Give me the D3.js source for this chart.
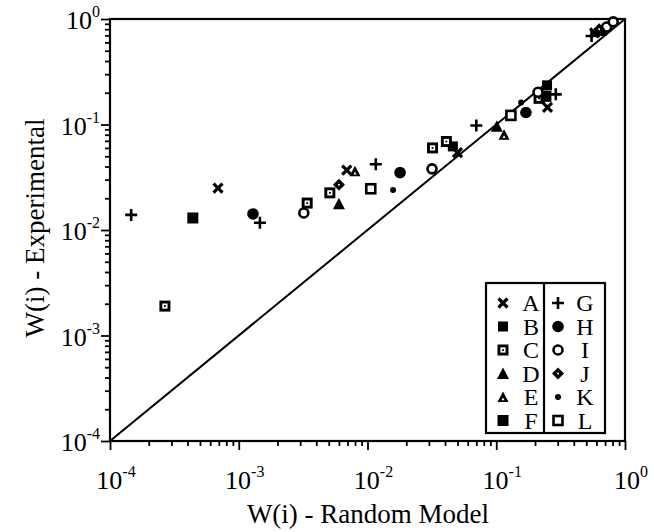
<!DOCTYPE html>
<html>
<head>
<meta charset="utf-8">
<script src="https://cdn.jsdelivr.net/npm/d3@7"></script>
<style>
body { margin:0; background:#fff; }
text { font-family:"Liberation Serif","Times New Roman",serif; fill:#000; }
</style>
</head>
<body>
<svg id="graph"></svg>
<script>
// series: [random model, experimental]
var seriesA = [[6.9e-4,0.025],[6.9e-3,0.037],[0.050,0.054],[0.25,0.145],[0.58,0.74]];
var seriesB = [[0.046,0.062],[0.248,0.235],[0.66,0.77]];
var seriesC = [[2.67e-4,0.0019],[3.4e-3,0.018],[5.1e-3,0.0225],[0.032,0.060],[0.041,0.069],[0.215,0.177]];
var seriesD = [[6.0e-3,0.0177],[0.101,0.096]];
var seriesE = [[8.0e-3,0.036],[0.115,0.080]];
var seriesF = [[4.4e-4,0.013],[0.243,0.185]];
var seriesG = [[1.46e-4,0.0139],[1.46e-3,0.0117],[0.0116,0.042],[0.070,0.098],[0.29,0.193],[0.55,0.69]];
var seriesH = [[1.29e-3,0.0142],[0.0179,0.035],[0.170,0.130]];
var seriesI = [[3.2e-3,0.0145],[0.0317,0.038],[0.211,0.202],[0.72,0.84],[0.81,0.94]];
var seriesJ = [[6.0e-3,0.0268],[0.63,0.80]];
var seriesK = [[0.0158,0.024],[0.156,0.162]];
var seriesL = [[0.0106,0.0246],[0.130,0.122]];

var legendLeft = ["A","B","C","D","E","F"];
var legendRight = ["G","H","I","J","K","L"];
var majorTicks = [1e-4,1e-3,1e-2,1e-1,1];
var tickExp = ["-4","-3","-2","-1","0"];

var allSeries = {A:seriesA,B:seriesB,C:seriesC,D:seriesD,E:seriesE,F:seriesF,
                 G:seriesG,H:seriesH,I:seriesI,J:seriesJ,K:seriesK,L:seriesL};

var screen = {width:654, height:532};
var margins = {left:110, right:29, top:19, bottom:91};

var svg = d3.select("#graph")
  .attr("width", screen.width)
  .attr("height", screen.height);

var xScale = d3.scaleLog().domain([1e-4,1]).range([margins.left, screen.width-margins.right]);
var yScale = d3.scaleLog().domain([1e-4,1]).range([screen.height-margins.bottom, margins.top]);

var minorTicks = [];
majorTicks.slice(0,4).forEach(function(m){
  for (var k=2;k<=9;k++) minorTicks.push(m*k);
});

// frame
svg.append("rect")
  .attr("x", xScale(1e-4)).attr("y", yScale(1))
  .attr("width", xScale(1)-xScale(1e-4))
  .attr("height", yScale(1e-4)-yScale(1))
  .attr("fill","none").attr("stroke","#000").attr("stroke-width",2.2);

// axes: majors and minors
var drawAxis = function(axis, tr, vals, size){
  svg.append("g").attr("transform", tr)
    .call(axis.tickValues(vals).tickSize(size).tickFormat(""))
    .call(function(g){ g.select(".domain").remove(); })
    .selectAll("line").attr("stroke","#000").attr("stroke-width",1.8);
};
var bottomY = yScale(1e-4);
drawAxis(d3.axisBottom(xScale), "translate(0,"+bottomY+")", majorTicks, 9);
drawAxis(d3.axisBottom(xScale), "translate(0,"+bottomY+")", minorTicks, 5);
drawAxis(d3.axisLeft(yScale), "translate("+xScale(1e-4)+",0)", majorTicks, 9);
drawAxis(d3.axisLeft(yScale), "translate("+xScale(1e-4)+",0)", minorTicks, 5);

// tick labels with superscript exponents
majorTicks.forEach(function(v,i){
  var t = svg.append("text")
    .attr("x", xScale(v)+6).attr("y", bottomY+48)
    .attr("text-anchor","middle").attr("font-size",26);
  t.append("tspan").text("10");
  t.append("tspan").text(tickExp[i]).attr("font-size",16).attr("dy",-12);

  var u = svg.append("text")
    .attr("x", 100).attr("y", yScale(v)+10)
    .attr("text-anchor","end").attr("font-size",26);
  u.append("tspan").text("10");
  u.append("tspan").text(tickExp[i]).attr("font-size",16).attr("dy",-12);
});

// diagonal y = x
svg.append("line")
  .attr("x1", xScale(1e-4)).attr("y1", yScale(1e-4))
  .attr("x2", xScale(1)).attr("y2", yScale(1))
  .attr("stroke","#000").attr("stroke-width",2);

// marker drawing
var drawMarker = function(g, key, cx, cy){
  var m = g.append("g").attr("transform","translate("+cx+","+cy+")");
  if (key=="A") {
    m.append("path").attr("d","M-4.5,-4.5L4.5,4.5M-4.5,4.5L4.5,-4.5").attr("stroke","#000").attr("stroke-width",3.2);
  } else if (key=="B") {
    m.append("rect").attr("x",-5).attr("y",-5).attr("width",10).attr("height",10).attr("fill","#000");
  } else if (key=="C") {
    m.append("rect").attr("x",-5.5).attr("y",-5.5).attr("width",11).attr("height",11).attr("fill","#000");
    m.append("rect").attr("x",-2.6).attr("y",-2.6).attr("width",5.2).attr("height",5.2).attr("fill","#fff");
    m.append("rect").attr("x",-0.9).attr("y",-0.9).attr("width",1.8).attr("height",1.8).attr("fill","#000");
  } else if (key=="D") {
    m.append("path").attr("d","M0,-6L6,5.5L-6,5.5Z").attr("fill","#000");
  } else if (key=="E") {
    m.append("path").attr("d","M0,-5.5L5.5,5L-5.5,5Z").attr("fill","#000");
    m.append("path").attr("d","M0,0.5L1.5,3.2L-1.5,3.2Z").attr("fill","#fff");
  } else if (key=="F") {
    m.append("rect").attr("x",-5.5).attr("y",-5.5).attr("width",11).attr("height",11).attr("fill","#000");
  } else if (key=="G") {
    m.append("path").attr("d","M-6,0L6,0M0,-6L0,6").attr("stroke","#000").attr("stroke-width",2.6);
  } else if (key=="H") {
    m.append("circle").attr("r",5.8).attr("fill","#000");
  } else if (key=="I") {
    m.append("circle").attr("r",4.5).attr("fill","#fff").attr("stroke","#000").attr("stroke-width",2.6);
  } else if (key=="J") {
    m.append("path").attr("d","M0,-6L6,0L0,6L-6,0Z").attr("fill","#000");
    m.append("circle").attr("r",1).attr("fill","#fff");
  } else if (key=="K") {
    m.append("circle").attr("r",3).attr("fill","#000");
  } else if (key=="L") {
    m.append("rect").attr("x",-4.5).attr("y",-4.5).attr("width",9).attr("height",9)
      .attr("fill","#fff").attr("stroke","#000").attr("stroke-width",2.6);
  }
};

var points = svg.append("g");
Object.keys(allSeries).forEach(function(key){
  allSeries[key].forEach(function(d){
    drawMarker(points, key, xScale(d[0]), yScale(d[1]));
  });
});

// legend
var legend = svg.append("g").attr("transform","translate(486,283)");
legend.append("rect").attr("width",119).attr("height",150)
  .attr("fill","#fff").attr("stroke","#000").attr("stroke-width",2.2);
legend.append("line").attr("x1",58).attr("x2",58).attr("y1",0).attr("y2",150)
  .attr("stroke","#000").attr("stroke-width",2.2);
var drawColumn = function(keys, symX, labX){
  keys.forEach(function(k,i){
    var y = 20 + i*23.5;
    drawMarker(legend, k, symX, y);
    legend.append("text").text(k)
      .attr("x", labX).attr("y", y+8)
      .attr("text-anchor","middle").attr("font-size",24);
  });
};
drawColumn(legendLeft, 17, 45);
drawColumn(legendRight, 72, 99);

// axis titles
svg.append("text").text("W(i) - Random Model")
  .attr("x", 368).attr("y", 523)
  .attr("text-anchor","middle").attr("font-size",27);
svg.append("g").attr("transform","translate(44,"+228+")")
  .append("text").text("W(i) - Experimental")
  .attr("text-anchor","middle").attr("font-size",27)
  .attr("transform","rotate(-90)");
</script>
</body>
</html>
